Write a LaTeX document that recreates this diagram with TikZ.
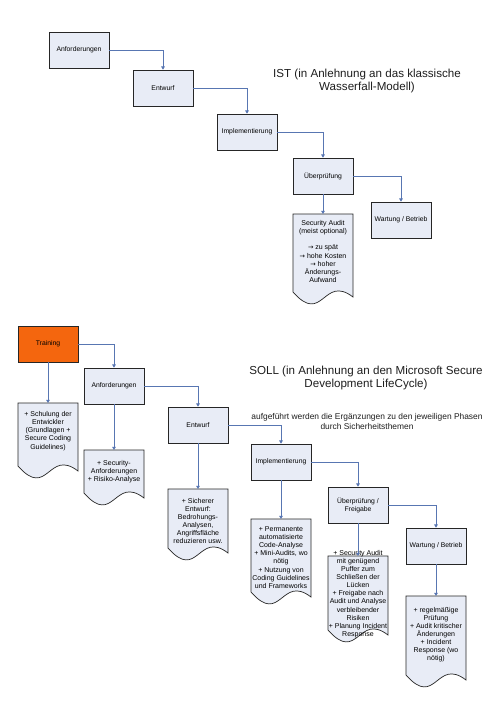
\documentclass[tikz,border=0pt]{standalone}
\usepackage{fontspec}
\setmainfont{Liberation Sans}
\newfontfamily\arrowfont{DejaVu Sans}
\usetikzlibrary{arrows.meta,calc,shadows}
\definecolor{boxfill}{RGB}{232,236,246}
\definecolor{arrowc}{RGB}{88,118,178}
\definecolor{orangefill}{RGB}{244,102,14}
\definecolor{titlec}{RGB}{30,30,30}
\newcommand\rarr{{\arrowfont\fontsize{6.5}{8.1}\selectfont →}}
\tikzset{
  procbox/.style={rectangle, draw=black!85, line width=0.7pt, fill=boxfill,
    minimum width=60pt, minimum height=36pt, inner sep=1pt, align=center,
    font=\fontsize{6.8}{8}\selectfont,
    drop shadow={shadow xshift=0.8pt, shadow yshift=-0.9pt, fill=black!30, opacity=0.6}},
  trainbox/.style={procbox, fill=orangefill, drop shadow={opacity=0}},
  docbody/.style={rectangle, minimum width=60pt, inner sep=0pt, outer sep=0pt},
  docline/.style={draw=black!85, line width=0.7pt, fill=boxfill},
  doctext/.style={align=center, inner sep=0pt, font=\fontsize{7}{8.1}\selectfont},
  arr/.style={draw=arrowc, line width=0.6pt, -{Triangle[length=3.2pt,width=3.6pt]}},
  titletext/.style={align=center, text=titlec, font=\fontsize{11.6}{13}\selectfont},
  subtext/.style={align=center, text=titlec, font=\fontsize{8.4}{9.5}\selectfont}
}
\newcommand\docpath[1]{\draw[docline] (#1.south west) -- (#1.north west) -- (#1.north east) -- ($(#1.south east)+(0,5)$) .. controls ($(#1.south west)+(30,-18)$) and ($(#1.south west)+(30,34)$) .. (#1.south west) -- cycle;}
\begin{document}
\begin{tikzpicture}[x=1pt,y=-1pt]
\useasboundingbox (0,0) rectangle (500,707);
\fill[white] (0,0) rectangle (500,707);

% ---------- IST ----------
\node[titletext] (tist) at (367,81) {IST (in Anlehnung an das klassische\\Wasserfall-Modell)};

\node[procbox] (i1) at (79,50) {Anforderungen};
\node[procbox] (i2) at (163,88) {Entwurf};
\node[procbox] (i3) at (247,132) {Implementierung};
\node[procbox] (i4) at (323,176) {Überprüfung};
\node[procbox] (i5) at (401,220) {Wartung / Betrieb};

\node[docbody, minimum height=78pt, anchor=north] (id) at (323,214) {};
\docpath{id}
\node[doctext] (idt) at (323,251.5) {Security Audit\\(meist optional)\\[8.1pt]\rarr{} zu spät\\\rarr{} hohe Kosten\\\rarr{} hoher\\Änderungs-\\Aufwand};

\draw[arr] (i1.east) -| (i2.north);
\draw[arr] (i2.east) -| (i3.north);
\draw[arr] (i3.east) -| (i4.north);
\draw[arr] (i4.east) -| (i5.north);
\draw[arr] (i4.south) -- (id.north);

% ---------- SOLL ----------
\node[titletext] (tsoll) at (366,377.5) {SOLL (in Anlehnung an den Microsoft Secure\\Development LifeCycle)};
\node[subtext] (tsub) at (367,421.5) {aufgeführt werden die Ergänzungen zu den jeweiligen Phasen\\durch Sicherheitsthemen};

\node[trainbox] (s0) at (48,344) {Training};
\node[procbox] (s1) at (114,386) {Anforderungen};
\node[procbox] (s2) at (198,425) {Entwurf};
\node[procbox] (s3) at (281,462) {Implementierung};
\node[procbox] (s4) at (358,505) {Überprüfung /\\Freigabe};
\node[procbox] (s5) at (436,546) {Wartung / Betrieb};

\node[docbody, minimum height=63pt, anchor=north] (d0) at (48,403) {};
\node[docbody, minimum height=43pt, anchor=north] (d1) at (114,450) {};
\node[docbody, minimum height=59pt, anchor=north] (d2) at (198,489) {};
\node[docbody, minimum height=73pt, anchor=north] (d3) at (281,519) {};
\node[docbody, minimum height=74pt, anchor=north] (d4) at (358,556) {};
\node[docbody, minimum height=79pt, anchor=north] (d5) at (436,596) {};
\docpath{d0}
\docpath{d1}
\docpath{d2}
\docpath{d3}
\docpath{d4}
\docpath{d5}

\node[doctext] (d0t) at (48,431) {+ Schulung der\\Entwickler\\(Grundlagen +\\Secure Coding\\Guidelines)};
\node[doctext] (d1t) at (114,472) {+ Security-\\Anforderungen\\+ Risiko-Analyse};
\node[doctext] (d2t) at (198,521) {+ Sicherer\\Entwurf:\\Bedrohungs-\\Analysen,\\Angriffsfläche\\reduzieren usw.};
\node[doctext] (d3t) at (281,557.5) {+ Permanente\\automatisierte\\Code-Analyse\\+ Mini-Audits, wo\\nötig\\+ Nutzung von\\Coding Guidelines\\und Frameworks};
\node[doctext] (d4t) at (358,594) {+ Security Audit\\mit genügend\\Puffer zum\\Schließen der\\Lücken\\+ Freigabe nach\\Audit und Analyse\\verbleibender\\Risiken\\+ Planung Incident\\Response};
\node[doctext] (d5t) at (436,634.5) {+ regelmäßige\\Prüfung\\+ Audit kritischer\\Änderungen\\+ Incident\\Response (wo\\nötig)};

\draw[arr] (s0.east) -| (s1.north);
\draw[arr] (s0.south) -- (d0.north);
\draw[arr] (s1.east) -| (s2.north);
\draw[arr] (s1.south) -- (d1.north);
\draw[arr] (s2.east) -| (s3.north);
\draw[arr] (s2.south) -- (d2.north);
\draw[arr] (s3.east) -| (s4.north);
\draw[arr] (s3.south) -- (d3.north);
\draw[arr] (s4.east) -| (s5.north);
\draw[arr] (s4.south) -- (d4.north);
\draw[arr] (s5.south) -- (d5.north);
\end{tikzpicture}
\end{document}
